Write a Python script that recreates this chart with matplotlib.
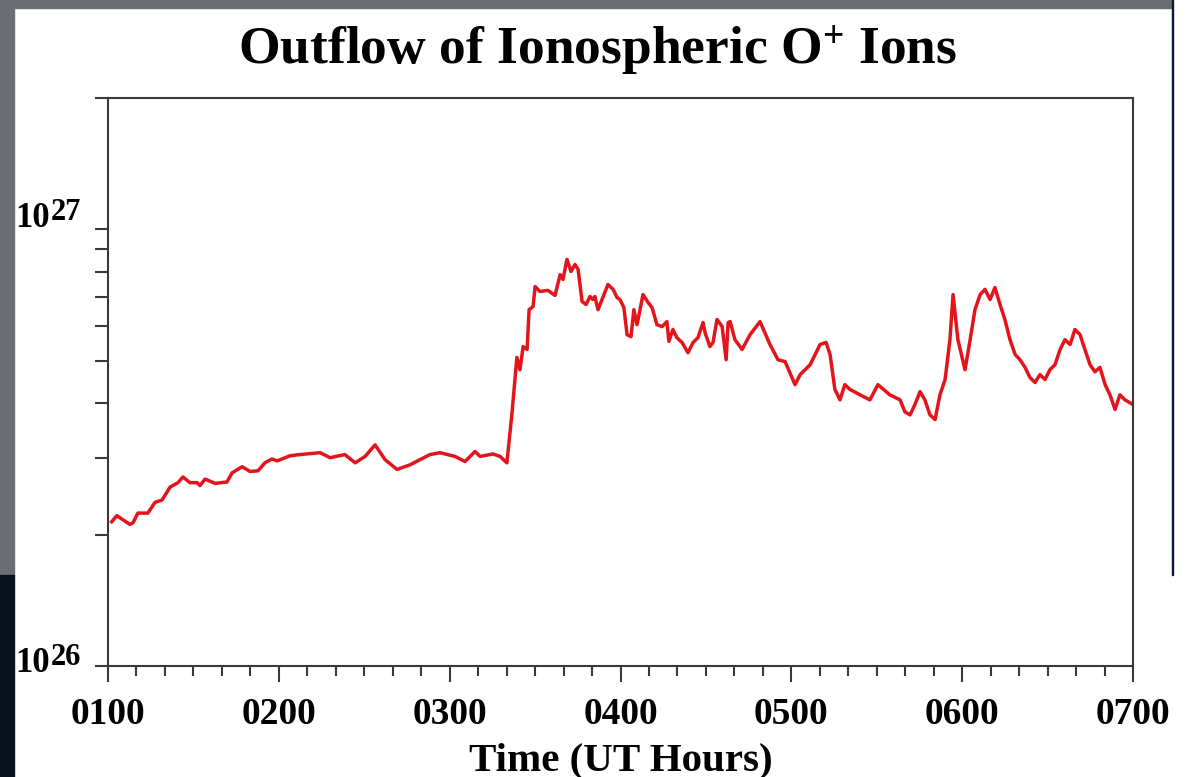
import numpy as np
import matplotlib
matplotlib.use("Agg")
import matplotlib.pyplot as plt
from matplotlib.patches import Rectangle
from matplotlib.ticker import FixedLocator, MultipleLocator, NullFormatter

plt.rcParams['font.family'] = ['Liberation Serif', 'DejaVu Serif']
plt.rcParams['font.weight'] = 'bold'
plt.rcParams['mathtext.default'] = 'regular'

# minutes after 0100 UT
minutes = [1.3, 3.1, 7.7, 8.8, 10.5, 14.0, 16.5, 19.0, 21.8, 24.6, 26.3, 28.8, 31.3, 32.3,
           34.1, 37.6, 41.8, 43.6, 47.1, 49.9, 52.7, 55.1, 57.6, 59.4, 63.9, 67.4, 74.5,
           78.0, 83.2, 86.8, 90.3, 93.8, 97.3, 101.5, 106.1, 109.6, 113.1, 116.6, 121.9,
           125.4, 128.9, 130.7, 135.2, 137.7, 140.1, 141.9, 143.6, 144.7, 145.8, 147.2,
           147.9, 149.3, 150.0, 151.7, 154.5, 157.0, 158.8, 159.8, 161.2, 162.6, 164.0,
           165.1, 166.5, 167.9, 169.3, 170.3, 171.0, 172.1, 173.5, 175.6, 177.4, 178.8,
           179.8, 181.2, 182.3, 183.7, 184.7, 185.8, 187.9, 189.7, 191.1, 192.8, 194.6,
           196.3, 197.0, 198.4, 199.8, 201.6, 203.7, 205.5, 207.2, 209.0, 209.7, 211.4,
           212.5, 213.9, 215.7, 217.1, 217.8, 218.5, 220.2, 222.7, 225.5, 229.0, 232.5,
           235.3, 237.8, 241.3, 243.1, 246.6, 250.1, 252.2, 253.6, 255.3, 257.1, 258.8,
           260.6, 264.1, 267.6, 270.4, 274.6, 278.2, 279.9, 281.7, 283.4, 285.2, 286.9,
           288.7, 290.5, 292.2, 294.0, 295.7, 296.8, 298.5, 301.0, 302.8, 304.5, 306.3,
           308.0, 309.8, 311.5, 313.3, 315.0, 316.8, 318.6, 320.3, 322.1, 323.8, 325.6,
           327.3, 329.1, 330.8, 332.6, 334.4, 336.1, 337.9, 339.6, 341.4, 343.1, 344.9,
           346.6, 348.4, 350.2, 351.9, 353.7, 355.4, 357.2, 360.0]

# O+ outflow rate, units of 1e26 ions/s
outflow = [2.14, 2.21, 2.11, 2.13, 2.24, 2.24, 2.37, 2.40, 2.57, 2.63, 2.71, 2.63, 2.63, 2.59,
           2.68, 2.62, 2.64, 2.77, 2.86, 2.79, 2.80, 2.92, 2.98, 2.95, 3.03, 3.05, 3.08,
           3.00, 3.05, 2.92, 3.02, 3.21, 2.97, 2.82, 2.89, 2.97, 3.05, 3.08, 3.02,
           2.94, 3.10, 3.02, 3.06, 3.02, 2.92, 3.80, 5.09, 4.77, 5.39, 5.31,
           6.55, 6.66, 7.40, 7.21, 7.25, 7.06, 7.88, 7.68, 8.54, 8.01, 8.31,
           8.10, 6.84, 6.73, 7.02, 6.91, 7.02, 6.55, 6.91, 7.48, 7.29, 6.98,
           6.91, 6.62, 5.74, 5.68, 6.55, 6.05, 7.09, 6.80, 6.62, 6.05, 5.99,
           6.15, 5.54, 5.90, 5.65, 5.51, 5.22, 5.51, 5.65, 6.12, 5.80, 5.39,
           5.51, 6.22, 5.99, 5.03, 6.12, 6.15, 5.59, 5.31, 5.74, 6.15, 5.45,
           5.03, 4.98, 4.41, 4.65, 4.90, 5.45, 5.51, 5.17, 4.30, 4.07, 4.41,
           4.30, 4.18, 4.07, 4.41, 4.18, 4.07, 3.82, 3.76, 3.97, 4.25, 4.07,
           3.76, 3.67, 4.18, 4.53, 5.59, 7.09, 5.59, 4.77, 5.59, 6.55, 7.09,
           7.29, 6.91, 7.36, 6.73, 6.22, 5.59, 5.17, 5.03, 4.83, 4.58, 4.46,
           4.65, 4.53, 4.77, 4.90, 5.31, 5.59, 5.45, 5.90, 5.74, 5.31, 4.90,
           4.72, 4.83, 4.41, 4.18, 3.87, 4.18, 4.07, 3.97]

hour_ticks = [1, 2, 3, 4, 5, 6, 7]
hour_labels = ['0100', '0200', '0300', '0400', '0500', '0600', '0700']
decades = [1e26, 1e27]
decade_exps = ['26', '27']

hours = 1 + np.array(minutes) / 60.0
rate = np.array(outflow) * 1e26

fig = plt.figure(figsize=(11.9, 7.77), dpi=100)
fig.patch.set_facecolor('white')

# slide frame around the plot
W, H = 1190.0, 777.0
fig.patches.append(Rectangle((0, 769 / H), 1172 / W, 8 / H, transform=fig.transFigure,
                             color='#6b6f74', zorder=0))
fig.patches.append(Rectangle((0, 202 / H), 14 / W, 1 - 202 / H, transform=fig.transFigure,
                             color='#6b6f74', zorder=0))
fig.patches.append(Rectangle((0, 0), 14 / W, 202 / H, transform=fig.transFigure,
                             color='#07101b', zorder=0))
fig.patches.append(Rectangle((1171.5 / W, 202 / H), 1.5 / W, 1 - 202 / H,
                             transform=fig.transFigure, color='#0b1a33', zorder=0))

ax = fig.add_axes([108 / W, 111 / H, 1025 / W, 568 / H])
ax.plot(hours, rate, color='#e3141b', lw=2.5, solid_joinstyle='round')

ax.set_yscale('log')
ax.set_xlim(1, 7)
ax.set_ylim(1e26, 2e27)

for s in ax.spines.values():
    s.set_color('#3a3a3a')
    s.set_linewidth(1.5)

ax.xaxis.set_major_locator(FixedLocator(hour_ticks))
ax.set_xticklabels(hour_labels)
ax.xaxis.set_minor_locator(MultipleLocator(1 / 6))
ax.tick_params(axis='x', which='major', direction='out', length=11.5, width=1.5,
               color='#3a3a3a', labelsize=27, pad=11)
ax.tick_params(axis='x', which='minor', direction='out', length=7, width=1.5, color='#3a3a3a')

ax.yaxis.set_major_locator(FixedLocator(decades))
ax.yaxis.set_minor_locator(FixedLocator([2e26, 3e26, 4e26, 5e26, 6e26, 7e26, 8e26, 9e26, 2e27]))
ax.yaxis.set_major_formatter(NullFormatter())
ax.yaxis.set_minor_formatter(NullFormatter())
ax.tick_params(axis='y', which='both', direction='out', length=9.5, width=1.5, color='#3a3a3a')
ax.yaxis.get_major_ticks()[0].tick1line.set_color('#e3141b')

# decade labels, the lower one sits a little below its tick
label_shift = [-6, 2]
for v, e, dy in zip(decades, decade_exps, label_shift):
    ax.annotate('10', xy=(0, v), xycoords=ax.get_yaxis_transform(), xytext=(-58, dy),
                textcoords='offset pixels', ha='right', va='baseline', fontsize=25,
                fontweight='bold')
    ax.annotate(e, xy=(0, v), xycoords=ax.get_yaxis_transform(), xytext=(-57, dy + 7),
                textcoords='offset pixels', ha='left', va='baseline', fontsize=22,
                fontweight='bold')

ax.set_xlabel('Time (UT Hours)', fontsize=29.5, fontweight='bold', labelpad=7)
fig.text(597.5 / W, 1 - 64 / H, 'Outflow of Ionospheric O$^{+}$ Ions', ha='center',
         va='baseline', fontsize=38.5, fontweight='bold')

fig.savefig('out.png', dpi=100)
